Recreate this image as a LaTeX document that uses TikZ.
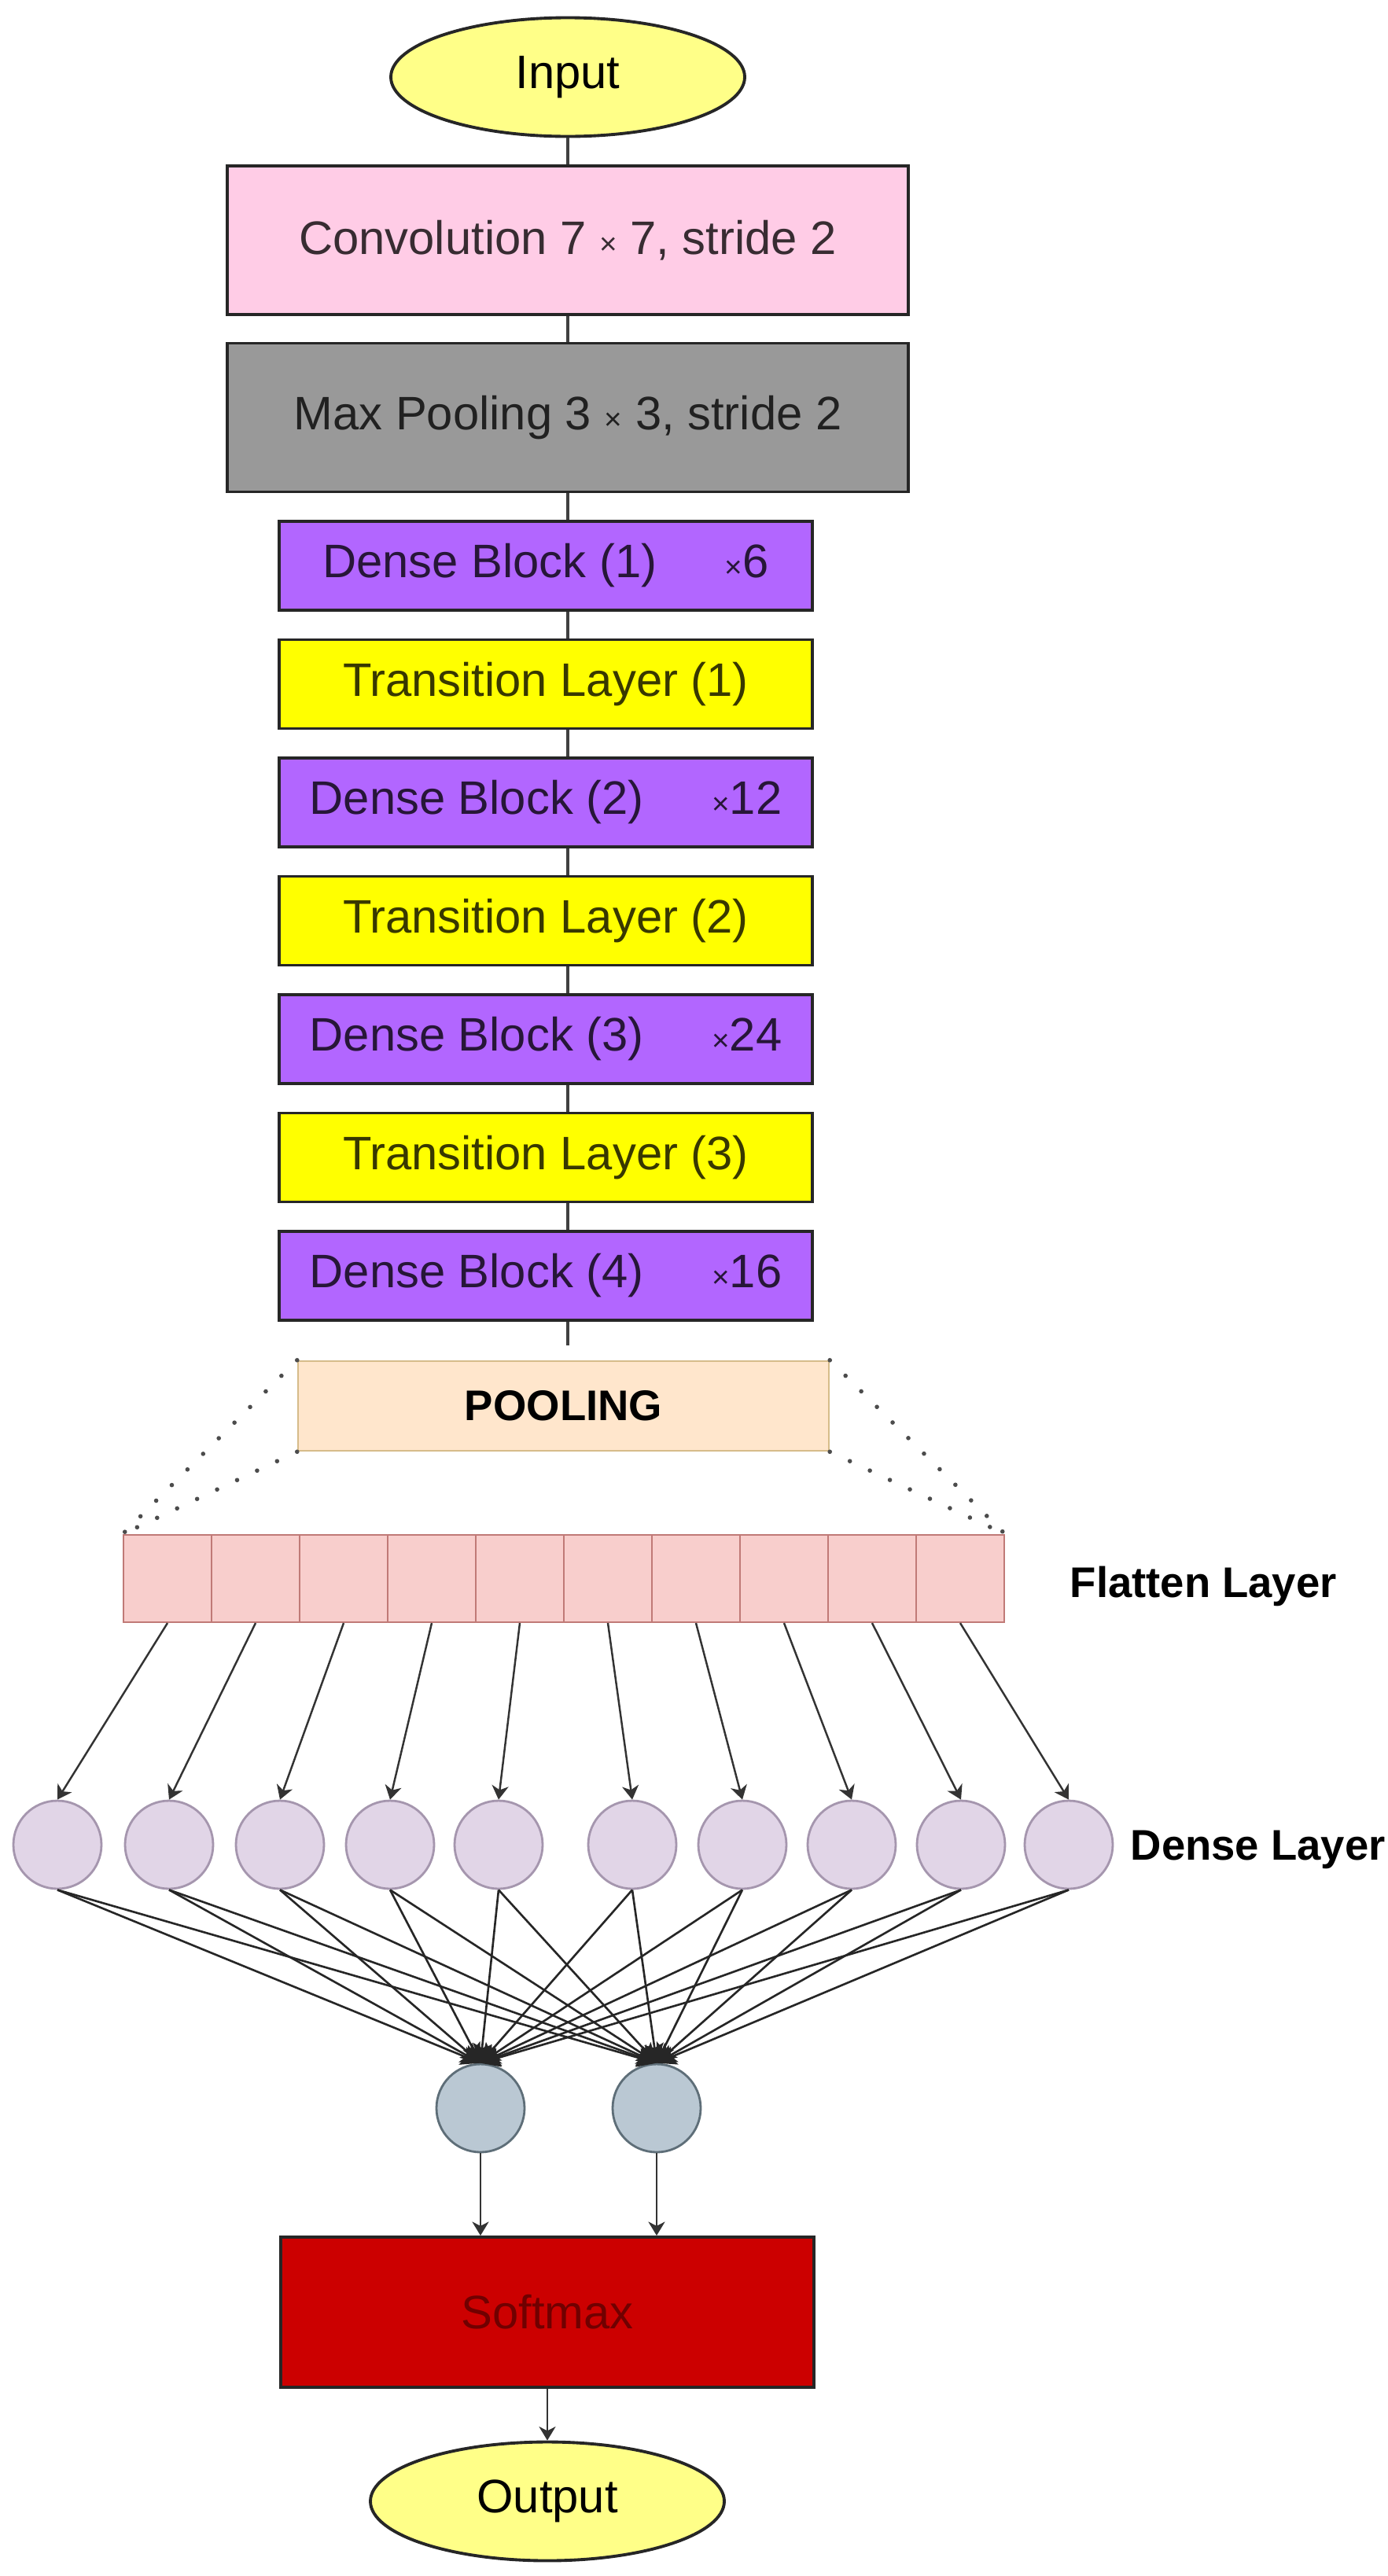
\documentclass[tikz,border=0pt]{standalone}
\usepackage{fontspec}
\setmainfont{Liberation Sans}
\usetikzlibrary{shapes.geometric,arrows.meta}

\definecolor{inyellow}{HTML}{FFFF88}
\definecolor{convpink}{HTML}{FFCCE6}
\definecolor{maxgrey}{HTML}{999999}
\definecolor{blockpurple}{HTML}{B266FF}
\definecolor{transyellow}{HTML}{FFFF00}
\definecolor{poolpeach}{HTML}{FFE6CC}
\definecolor{poolline}{HTML}{D6BC8A}
\definecolor{flatpink}{HTML}{F8CECC}
\definecolor{flatline}{HTML}{C07A77}
\definecolor{lilac}{HTML}{E1D5E7}
\definecolor{lilacline}{HTML}{A596AE}
\definecolor{outblue}{HTML}{BAC8D3}
\definecolor{outline}{HTML}{5E6E78}
\definecolor{softred}{HTML}{CC0000}

\def\smallx{{\fontsize{11}{12}\selectfont ×}}

\tikzset{
	layerbox/.style={draw=black!85, line width=1.1pt, minimum width=8.66cm, minimum height=1.89cm, inner sep=0pt, font=\fontsize{17}{20}\selectfont, text=black, text opacity=0.78},
	blockbox/.style={layerbox, minimum width=6.78cm, minimum height=1.13cm},
	endbox/.style={ellipse, draw=black!85, line width=1.1pt, fill=inyellow, minimum width=4.5cm, minimum height=1.51cm, inner sep=0pt, font=\fontsize{17}{20}\selectfont},
	cell/.style={draw=flatline, line width=0.6pt, fill=flatpink, minimum width=1.12cm, minimum height=1.11cm, inner sep=0pt},
	neuron/.style={circle, draw=lilacline, line width=0.8pt, fill=lilac, minimum size=1.12cm, inner sep=0pt},
	outneuron/.style={circle, draw=outline, line width=0.8pt, fill=outblue, minimum size=1.12cm, inner sep=0pt},
	link/.style={line width=0.9pt, draw=black!75},
	feed/.style={-{Stealth[length=5pt,width=6pt,inset=1.5pt]}, line width=0.7pt, draw=black!80},
	wire/.style={-{Stealth[length=7pt,width=7pt,inset=1.5pt]}, line width=0.75pt, draw=black!85},
	dots/.style={line width=1.6pt, dash pattern=on 0pt off 8pt, line cap=round, draw=black!70},
	sidelabel/.style={anchor=west, font=\fontsize{15.5}{18}\selectfont\bfseries, inner sep=0pt}
}

\begin{document}
\begin{tikzpicture}
			%%%%% START %%%%%
			\useasboundingbox (0, 0) rectangle (17.65, -32.76);
			
			\node[endbox] (in) at (7.22, -0.98) {Input};
			
			\node[layerbox, fill=convpink] (conv) at (7.22, -3.055) {Convolution 7 \smallx{} 7, stride 2};
			\node[layerbox, fill=maxgrey] (mp) at (7.22, -5.31) {Max Pooling 3 \smallx{} 3, stride 2};
			
			\node[blockbox, fill=blockpurple] (db1) at (6.94, -7.195) {Dense Block (1)\hspace{1.45em}\smallx6};
			\node[blockbox, fill=transyellow] (tl1) at (6.94, -8.70) {Transition Layer (1)};
			\node[blockbox, fill=blockpurple] (db2) at (6.94, -10.205) {Dense Block (2)\hspace{1.45em}\smallx12};
			\node[blockbox, fill=transyellow] (tl2) at (6.94, -11.71) {Transition Layer (2)};
			\node[blockbox, fill=blockpurple] (db3) at (6.94, -13.215) {Dense Block (3)\hspace{1.45em}\smallx24};
			\node[blockbox, fill=transyellow] (tl3) at (6.94, -14.72) {Transition Layer (3)};
			\node[blockbox, fill=blockpurple] (db4) at (6.94, -16.225) {Dense Block (4)\hspace{1.45em}\smallx16};
			
			\node[draw=poolline, line width=0.7pt, fill=poolpeach, minimum width=6.75cm, minimum height=1.14cm, font=\fontsize{15.5}{18}\selectfont\bfseries] (pool) at (7.165, -17.88) {POOLING};
			
			\draw[link] (in.south) -- (conv.north);
			\draw[link] (conv.south) -- (mp.north);
			\draw[link] (mp.south) -- (mp.south |- db1.north);
			\draw[link] (db1.south -| mp.south) -- (tl1.north -| mp.south);
			\draw[link] (tl1.south -| mp.south) -- (db2.north -| mp.south);
			\draw[link] (db2.south -| mp.south) -- (tl2.north -| mp.south);
			\draw[link] (tl2.south -| mp.south) -- (db3.north -| mp.south);
			\draw[link] (db3.south -| mp.south) -- (tl3.north -| mp.south);
			\draw[link] (tl3.south -| mp.south) -- (db4.north -| mp.south);
			\draw[link, shorten >=0.19cm] (db4.south -| mp.south) -- (pool.north -| mp.south);
			
			\node[cell] (f1) at (2.13, -20.075) {};
			\node[cell] (f2) at (3.25, -20.075) {};
			\node[cell] (f3) at (4.37, -20.075) {};
			\node[cell] (f4) at (5.49, -20.075) {};
			\node[cell] (f5) at (6.61, -20.075) {};
			\node[cell] (f6) at (7.73, -20.075) {};
			\node[cell] (f7) at (8.85, -20.075) {};
			\node[cell] (f8) at (9.97, -20.075) {};
			\node[cell] (f9) at (11.09, -20.075) {};
			\node[cell] (f10) at (12.21, -20.075) {};
			\node[sidelabel] (flatlabel) at (13.60, -20.17) {Flatten Layer};
			
			\draw[dots] (pool.north west) -- (f1.north west);
			\draw[dots] (pool.south west) -- (f1.north west);
			\draw[dots] (pool.north east) -- (f10.north east);
			\draw[dots] (pool.south east) -- (f10.north east);
			
			\node[neuron] (d1) at (0.73, -23.46) {};
			\node[neuron] (d2) at (2.15, -23.46) {};
			\node[neuron] (d3) at (3.56, -23.46) {};
			\node[neuron] (d4) at (4.96, -23.46) {};
			\node[neuron] (d5) at (6.34, -23.46) {};
			\node[neuron] (d6) at (8.04, -23.46) {};
			\node[neuron] (d7) at (9.44, -23.46) {};
			\node[neuron] (d8) at (10.83, -23.46) {};
			\node[neuron] (d9) at (12.22, -23.46) {};
			\node[neuron] (d10) at (13.59, -23.46) {};
			\node[sidelabel] (denselabel) at (14.37, -23.52) {Dense Layer};
			
			\draw[feed] (f1.south) -- (d1.north);
			\draw[feed] (f2.south) -- (d2.north);
			\draw[feed] (f3.south) -- (d3.north);
			\draw[feed] (f4.south) -- (d4.north);
			\draw[feed] (f5.south) -- (d5.north);
			\draw[feed] (f6.south) -- (d6.north);
			\draw[feed] (f7.south) -- (d7.north);
			\draw[feed] (f8.south) -- (d8.north);
			\draw[feed] (f9.south) -- (d9.north);
			\draw[feed] (f10.south) -- (d10.north);
			
			\node[outneuron] (o1) at (6.11, -26.81) {};
			\node[outneuron] (o2) at (8.35, -26.81) {};
			
			\draw (d1.south) edge[wire] (o1.north) edge[wire] (o2.north);
			\draw (d2.south) edge[wire] (o1.north) edge[wire] (o2.north);
			\draw (d3.south) edge[wire] (o1.north) edge[wire] (o2.north);
			\draw (d4.south) edge[wire] (o1.north) edge[wire] (o2.north);
			\draw (d5.south) edge[wire] (o1.north) edge[wire] (o2.north);
			\draw (d6.south) edge[wire] (o1.north) edge[wire] (o2.north);
			\draw (d7.south) edge[wire] (o1.north) edge[wire] (o2.north);
			\draw (d8.south) edge[wire] (o1.north) edge[wire] (o2.north);
			\draw (d9.south) edge[wire] (o1.north) edge[wire] (o2.north);
			\draw (d10.south) edge[wire] (o1.north) edge[wire] (o2.north);
			
			\node[layerbox, fill=softred, minimum width=6.78cm, minimum height=1.91cm, text opacity=0.45] (sm) at (6.96, -29.405) {Softmax};
			
			\draw[feed] (o1.south) -- (o1.south |- sm.north);
			\draw[feed] (o2.south) -- (o2.south |- sm.north);
			
			\node[endbox] (out) at (6.96, -31.81) {Output};
			\draw[feed] (sm.south) -- (out.north);
			
			%%%%% END %%%%%
\end{tikzpicture}
\end{document}
